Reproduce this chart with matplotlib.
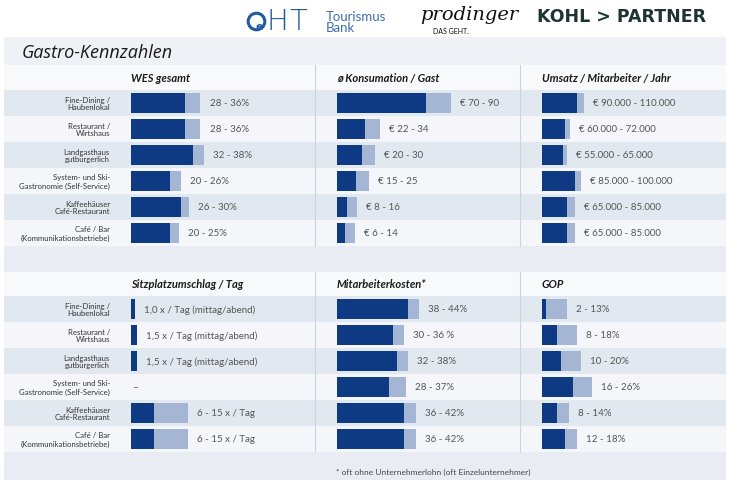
import matplotlib
matplotlib.use("Agg")
import matplotlib.pyplot as plt
from matplotlib.patches import Rectangle, Circle

# ---------------- data ----------------
categories = ["Fine-Dining /\nHaubenlokal", "Restaurant /\nWirtshaus", "Landgasthaus\ngutbürgerlich",
              "System- und Ski-\nGastronomie (Self-Service)", "Kaffeehäuser\nCafé-Restaurant",
              "Café / Bar\n(Kommunikationsbetriebe)"]

wes_low = [28, 28, 32, 20, 26, 20]
wes_high = [36, 36, 38, 26, 30, 25]
wes_labels = ["28 - 36%", "28 - 36%", "32 - 38%", "20 - 26%", "26 - 30%", "20 - 25%"]

kons_low = [70, 22, 20, 15, 8, 6]
kons_high = [90, 34, 30, 25, 16, 14]
kons_labels = ["€ 70 - 90", "€ 22 - 34", "€ 20 - 30", "€ 15 - 25", "€ 8 - 16", "€ 6 - 14"]

ums_low = [90000, 60000, 55000, 85000, 65000, 65000]
ums_high = [110000, 72000, 65000, 100000, 85000, 85000]
ums_labels = ["€ 90.000 - 110.000", "€ 60.000 - 72.000", "€ 55.000 - 65.000",
              "€ 85.000 - 100.000", "€ 65.000 - 85.000", "€ 65.000 - 85.000"]

sitz_low = [1.0, 1.5, 1.5, None, 6, 6]
sitz_high = [1.0, 1.5, 1.5, None, 15, 15]
sitz_labels = ["1,0 x / Tag (mittag/abend)", "1,5 x / Tag (mittag/abend)", "1,5 x / Tag (mittag/abend)",
               "–", "6 - 15 x / Tag", "6 - 15 x / Tag"]

mak_low = [38, 30, 32, 28, 36, 36]
mak_high = [44, 36, 38, 37, 42, 42]
mak_labels = ["38 - 44%", "30 - 36 %", "32 - 38%", "28 - 37%", "36 - 42%", "36 - 42%"]

gop_low = [2, 8, 10, 16, 8, 12]
gop_high = [13, 18, 20, 26, 14, 18]
gop_labels = ["2 - 13%", "8 - 18%", "10 - 20%", "16 - 26%", "8 - 14%", "12 - 18%"]

titles = ["WES gesamt", "ø Konsumation / Gast", "Umsatz / Mitarbeiter / Jahr",
          "Sitzplatzumschlag / Tag", "Mitarbeiterkosten*", "GOP"]

# ---------------- style ----------------
W, H = 730, 481
DARK = "#0e3a84"
LIGHT = "#a4b6d3"
PANEL = "#e9edf3"
HEAD = "#f8f9fb"
ROWS = ["#e2e8f0", "#f4f6fa"]
SEP = "#cdd3db"
FONT = "Lato"
LOGO_BLUE = "#22599f"

fig = plt.figure(figsize=(W / 100, H / 100), dpi=100)
fig.patch.set_facecolor("white")
bg = fig.add_axes([0, 0, 1, 1])
bg.set_xlim(0, W)
bg.set_ylim(H, 0)
bg.axis("off")


def rect(x0, y0, x1, y1, color):
    bg.add_patch(Rectangle((x0, y0), x1 - x0, y1 - y0, facecolor=color, edgecolor="none", zorder=0))


rect(4, 38, 726, 481, PANEL)
rect(4, 38, 726, 66, "#eef1f6")

row_h = 26
sections = [(66, 91), (273, 297)]  # header top, rows top
for htop, rtop in sections:
    rect(4, htop, 726, rtop, HEAD)
    for i in range(6):
        rect(4, rtop + i * row_h, 726, rtop + (i + 1) * row_h, ROWS[i % 2])
    for xs in (315, 520):
        bg.plot([xs, xs], [htop, rtop + 6 * row_h], color=SEP, lw=0.8, zorder=1)
    for i, c in enumerate(categories):
        bg.text(110, rtop + i * row_h + row_h / 2, c, ha="right", va="center",
                fontsize=5.6, color="#333333", family=FONT, linespacing=1.15, zorder=2)

# title and logos
bg.text(22, 53, "Gastro-Kennzahlen", fontsize=13, style="italic", color="#1a1a1a",
        family="Open Sans", va="center", ha="left")

bg.add_patch(Circle((256.5, 22.5), 8.3, facecolor="none", edgecolor=LOGO_BLUE, lw=2.2, zorder=2))
bg.text(259.5, 26.5, "e", fontsize=8, color=LOGO_BLUE, family="DejaVu Sans", fontweight="bold",
        va="center", ha="center", zorder=3)
bg.text(267, 22.5, "H", fontsize=21, color=LOGO_BLUE, family="DejaVu Sans", fontweight="light",
        va="center", ha="left")
bg.text(289, 22.5, "T", fontsize=21, color=LOGO_BLUE, family="DejaVu Sans", fontweight="light",
        va="center", ha="left")
bg.text(326, 22.5, "Tourismus\nBank", fontsize=9.5, color="#3f6fae", family=FONT,
        linespacing=0.95, va="center", ha="left")
bg.text(420, 15, "prodinger", fontsize=14, color="#111111", family="DejaVu Serif", style="italic",
        va="center", ha="left")
bg.text(433, 31, "DAS GEHT.", fontsize=5, color="#111111", family=FONT, va="center", ha="left")
bg.text(537, 17.5, "KOHL > PARTNER", fontsize=12.5, color="#1f3430", family="DejaVu Sans",
        fontweight="bold", va="center", ha="left")

bg.text(336, 472, "* oft ohne Unternehmerlohn (oft Einzelunternehmer)", fontsize=6,
        color="#444444", family=FONT, va="center", ha="left")

# ---------------- panels ----------------
panels = [
    (131, 315, 1.93, 91, wes_low, wes_high, wes_labels, titles[0]),
    (337, 520, 1.27, 91, kons_low, kons_high, kons_labels, titles[1]),
    (542, 725, 0.000385, 91, ums_low, ums_high, ums_labels, titles[2]),
    (131, 315, 3.8, 297, sitz_low, sitz_high, sitz_labels, titles[3]),
    (337, 520, 1.87, 297, mak_low, mak_high, mak_labels, titles[4]),
    (542, 725, 1.93, 297, gop_low, gop_high, gop_labels, titles[5]),
]

for x0, x1, scale, ytop, lows, highs, labels, title in panels:
    ax = fig.add_axes([x0 / W, 1 - (ytop + 6 * row_h) / H, (x1 - x0) / W, 6 * row_h / H])
    ax.set_xlim(0, (x1 - x0) / scale)
    ax.set_ylim(5.5, -0.5)
    ax.axis("off")
    ax.patch.set_alpha(0)
    ys = list(range(6))
    for y, lo, hi, lab in zip(ys, lows, highs, labels):
        if lo is None:
            ax.annotate(lab, (0, y), xytext=(1, 0), textcoords="offset points", va="center",
                        ha="left", fontsize=7, color="#555555", family=FONT)
            continue
        ax.barh(y, lo, left=0, height=0.77, color=DARK, edgecolor="none")
        if hi > lo:
            ax.barh(y, hi - lo, left=lo, height=0.77, color=LIGHT, edgecolor="none")
        ax.annotate(lab, (hi, y), xytext=(6.5, 0), textcoords="offset points", va="center",
                    ha="left", fontsize=7, color="#555555", family=FONT)
    bg.text(x0, ytop - 12.5, title, fontsize=8, style="italic", fontweight="bold",
            color="#1c1c1c", family=FONT, va="center", ha="left")

fig.savefig("out.png", dpi=100, facecolor=fig.get_facecolor())
